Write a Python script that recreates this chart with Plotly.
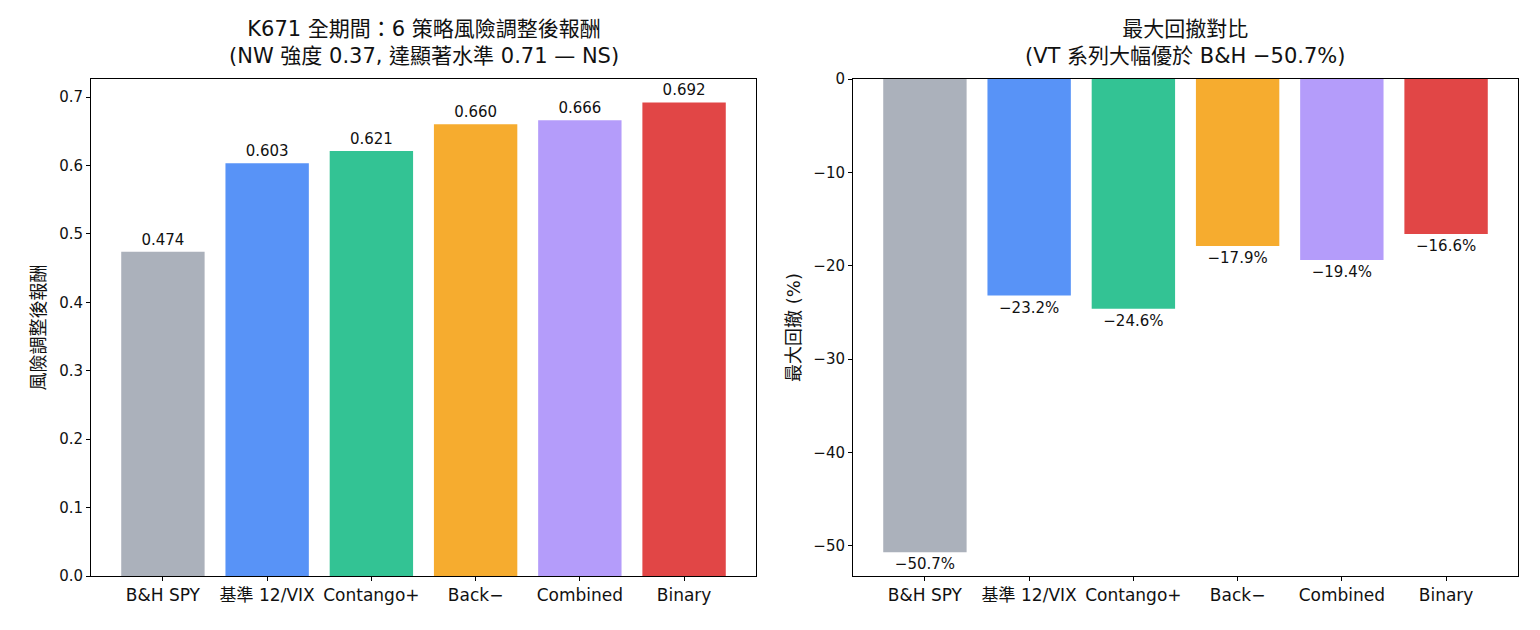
import plotly.graph_objects as go
from plotly.subplots import make_subplots

categories = ["B&H SPY", "基準 12/VIX", "Contango+", "Back−", "Combined", "Binary"]
sharpe = [0.474, 0.603, 0.621, 0.660, 0.666, 0.692]
max_dd = [-50.7, -23.2, -24.6, -17.9, -19.4, -16.6]
colors = ["#abb1bb", "#5893f7", "#33c394", "#f6ac2f", "#b49cfa", "#e14646"]

W, H = 1540, 630
FONT = "DejaVu Sans, Noto Sans CJK TC, sans-serif"

fig = make_subplots(rows=1, cols=2)

fig.add_trace(go.Bar(
    x=categories, y=sharpe, marker_color=colors, marker_line_width=0, width=0.8,
    text=[f"{v:.3f}" for v in sharpe], textposition="outside", cliponaxis=False,
    constraintext="none", textfont=dict(size=15, color="#111"), showlegend=False,
), row=1, col=1)

fig.add_trace(go.Bar(
    x=categories, y=max_dd, marker_color=colors, marker_line_width=0, width=0.8,
    text=[f"{v:.1f}%".replace("-", "−") for v in max_dd], textposition="outside", cliponaxis=False,
    constraintext="none", textfont=dict(size=15, color="#111"), showlegend=False,
), row=1, col=2)

ydom = [1 - 576 / H, 1 - 79 / H]
axis_common = dict(showline=True, linecolor="black", linewidth=1, mirror=True,
                   ticks="outside", ticklen=4, tickcolor="black", showgrid=False,
                   zeroline=False, automargin=False)

xtf = dict(size=17, color="#111")
ytf = dict(size=15, color="#111")
fig.update_xaxes(domain=[91 / W, 756 / W], range=[-0.69, 5.69], row=1, col=1, tickfont=xtf, **axis_common)
fig.update_xaxes(domain=[853 / W, 1518 / W], range=[-0.69, 5.69], row=1, col=2, tickfont=xtf, **axis_common)
fig.update_yaxes(domain=ydom, range=[0, 0.7263], tickvals=[0, 0.1, 0.2, 0.3, 0.4, 0.5, 0.6, 0.7],
                 tickformat=".1f", row=1, col=1, tickfont=ytf,
                 title=dict(text="風險調整後報酬", font=dict(size=18, color="#111"), standoff=8),
                 **axis_common)
fig.update_yaxes(domain=ydom, range=[-53.235, 0], tickvals=[0, -10, -20, -30, -40, -50],
                 row=1, col=2, tickfont=ytf,
                 title=dict(text="最大回撤 (%)", font=dict(size=18, color="#111"), standoff=8),
                 **axis_common)

fig.add_annotation(text="K671 全期間：6 策略風險調整後報酬<br>(NW 強度 0.37, 達顯著水準 0.71 — NS)",
                   x=(91 + 756) / 2 / W, y=1 - 15 / H, xref="paper", yref="paper",
                   xanchor="center", yanchor="top", showarrow=False,
                   font=dict(size=21, color="#111"))
fig.add_annotation(text="最大回撤對比<br>(VT 系列大幅優於 B&H −50.7%)",
                   x=(853 + 1518) / 2 / W, y=1 - 15 / H, xref="paper", yref="paper",
                   xanchor="center", yanchor="top", showarrow=False,
                   font=dict(size=21, color="#111"))

fig.update_layout(width=W, height=H, margin=dict(l=0, r=0, t=0, b=0),
                  plot_bgcolor="white", paper_bgcolor="white",
                  font=dict(family=FONT, color="#111"), bargap=0.2)

fig.write_html("out.html")
